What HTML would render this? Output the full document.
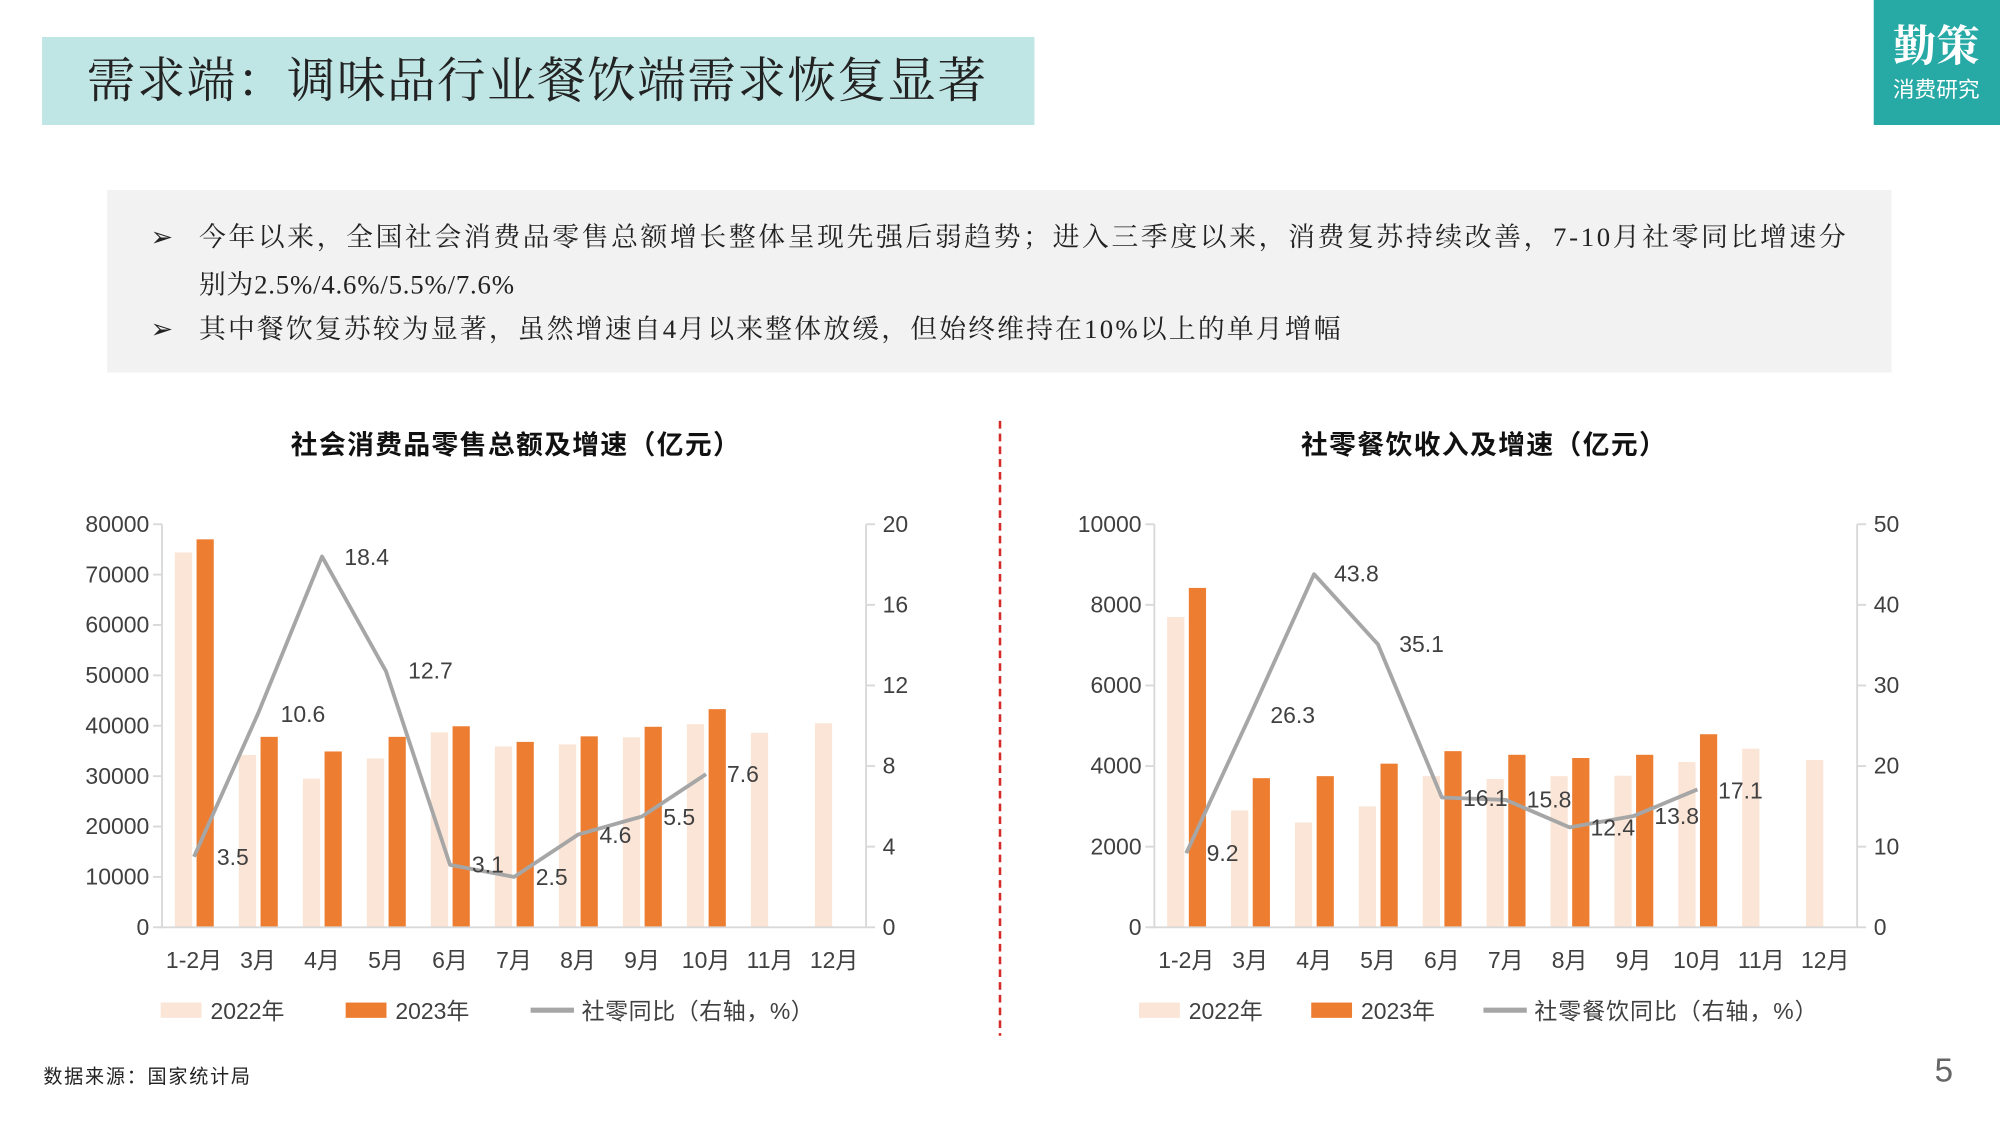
<!DOCTYPE html>
<html><head><meta charset="utf-8"><style>
html,body{margin:0;padding:0;background:#fff;}
svg{display:block;}
.t{font-family:"Liberation Sans","Noto Sans CJK SC",sans-serif;fill:#404040;font-size:18px;}
.s{font-family:"Liberation Serif","Noto Serif CJK SC",serif;}
</style></head><body>
<svg width="2000" height="1125" viewBox="0 0 1568 882" xmlns="http://www.w3.org/2000/svg">
<rect x="0" y="0" width="1568" height="882" fill="#fff"/>
<rect x="33" y="29" width="778" height="69" fill="#bfe5e5"/>
<text x="68" y="76" class="s" font-size="38" fill="#222" textLength="705" lengthAdjust="spacing">需求端：调味品行业餐饮端需求恢复显著</text>
<rect x="1469" y="0" width="99" height="98" fill="#27a9a5"/>
<text x="1518" y="48" text-anchor="middle" class="s" font-size="34" font-weight="bold" fill="#fff">勤策</text>
<text x="1518" y="76" text-anchor="middle" font-family="Liberation Sans,'Noto Sans CJK SC',sans-serif" font-size="17" fill="#fff">消费研究</text>
<rect x="84" y="149" width="1399" height="143" fill="#f2f2f2"/>
<g class="s" font-size="21" fill="#222">
<text x="118" y="193">➢</text><text x="156" y="193" textLength="1291" lengthAdjust="spacing">今年以来，全国社会消费品零售总额增长整体呈现先强后弱趋势；进入三季度以来，消费复苏持续改善，7-10月社零同比增速分</text>
<text x="156" y="230" textLength="247" lengthAdjust="spacing">别为2.5%/4.6%/5.5%/7.6%</text>
<text x="118" y="265">➢</text><text x="156" y="265" textLength="895" lengthAdjust="spacing">其中餐饮复苏较为显著，虽然增速自4月以来整体放缓，但始终维持在10%以上的单月增幅</text>
</g>
<line x1="784" y1="330" x2="784" y2="812" stroke="#d42a2a" stroke-width="2" stroke-dasharray="6,4"/>
<g font-family="Liberation Sans,'Noto Sans CJK SC',sans-serif" font-size="21" font-weight="bold" fill="#111">
<text x="228" y="356" textLength="352" lengthAdjust="spacing">社会消费品零售总额及增速（亿元）</text>
<text x="1020" y="356" textLength="286" lengthAdjust="spacing">社零餐饮收入及增速（亿元）</text>
</g>
<g id="L"></g>
<g id="R"></g>
<text x="34" y="849" font-family="Liberation Sans,'Noto Sans CJK SC',sans-serif" font-size="15" fill="#222" textLength="162" lengthAdjust="spacing">数据来源：国家统计局</text>
<text x="1524" y="848" text-anchor="middle" font-family="Liberation Sans,sans-serif" font-size="26" fill="#666">5</text>
<script>
var NS="http://www.w3.org/2000/svg";
function el(p,n,a,t){var e=document.createElementNS(NS,n);for(var k in a)e.setAttribute(k,a[k]);if(t!=null)e.textContent=t;p.appendChild(e);return e;}
function chart(id,ax,rx,lmax,lt,rmax,rt,d22,d23,ln,lbl,lg){
 var g=document.getElementById(id),y0=727,y1=411,H=y0-y1,cw=(rx-ax)/11;
 el(g,"line",{x1:ax,y1:y1,x2:ax,y2:y0,stroke:"#d9d9d9","stroke-width":1.5});
 el(g,"line",{x1:rx,y1:y1,x2:rx,y2:y0,stroke:"#d9d9d9","stroke-width":1.5});
 lt.forEach(function(v){var y=y0-v/lmax*H;el(g,"line",{x1:ax-7,y1:y,x2:ax,y2:y,stroke:"#d9d9d9","stroke-width":1.5});el(g,"text",{x:ax-10,y:y+6,"text-anchor":"end","class":"t"},v);});
 rt.forEach(function(v){var y=y0-v/rmax*H;el(g,"line",{x1:rx,y1:y,x2:rx+7,y2:y,stroke:"#d9d9d9","stroke-width":1.5});el(g,"text",{x:rx+13,y:y+6,"class":"t"},v);});
 var ms=["1-2月","3月","4月","5月","6月","7月","8月","9月","10月","11月","12月"];
 var pts=[];
 for(var i=0;i<11;i++){var c=ax+cw*(i+0.5);
  if(d22[i]!=null){var h=d22[i]/lmax*H;el(g,"rect",{x:c-15,y:y0-h,width:13.5,height:h,fill:"#fbe5d6"});}
  if(d23[i]!=null){var h=d23[i]/lmax*H;el(g,"rect",{x:c+2,y:y0-h,width:13.5,height:h,fill:"#ed7d31"});}
  el(g,"text",{x:c,y:759,"text-anchor":"middle","class":"t"},ms[i]);
  if(ln[i]!=null)pts.push(c+","+(y0-ln[i]/rmax*H));
 }
 el(g,"line",{x1:ax-2,y1:y0,x2:rx,y2:y0,stroke:"#d9d9d9","stroke-width":1.5});
 el(g,"polyline",{points:pts.join(" "),fill:"none",stroke:"#a6a6a6","stroke-width":3,"stroke-linejoin":"round"});
 lbl.forEach(function(l){el(g,"text",{x:l[0],y:l[1]+6,"class":"t"},l[2]);});
 el(g,"rect",{x:lg[0],y:786,width:32,height:12,fill:"#fbe5d6"});el(g,"text",{x:lg[0]+39,y:799,"class":"t"},"2022年");
 el(g,"rect",{x:lg[1],y:786,width:32,height:12,fill:"#ed7d31"});el(g,"text",{x:lg[1]+39,y:799,"class":"t"},"2023年");
 el(g,"line",{x1:lg[2],y1:792,x2:lg[2]+34,y2:792,stroke:"#a6a6a6","stroke-width":4});el(g,"text",{x:lg[2]+40,y:799,"class":"t",textLength:lg[4],lengthAdjust:"spacing"},lg[3]);
}
chart("L",127,679,80000,[0,10000,20000,30000,40000,50000,60000,70000,80000],20,[0,4,8,12,16,20],
 [74400,34200,29500,33500,38700,35900,36300,37700,40300,38600,40500],
 [77000,37800,34900,37800,39900,36800,37900,39800,43300,null,null],
 [3.5,10.6,18.4,12.7,3.1,2.5,4.6,5.5,7.6,null,null],
 [[170,672,"3.5"],[220,560,"10.6"],[270,437,"18.4"],[320,526,"12.7"],[370,678,"3.1"],[420,688,"2.5"],[470,655,"4.6"],[520,641,"5.5"],[570,607,"7.6"]],
 [126,271,416,"社零同比（右轴，%）",182]);
chart("R",905,1456,10000,[0,2000,4000,6000,8000,10000],50,[0,10,20,30,40,50],
 [7700,2900,2600,3000,3750,3680,3750,3760,4100,4430,4150],
 [8420,3700,3750,4060,4370,4280,4200,4280,4790,null,null],
 [9.2,26.3,43.8,35.1,16.1,15.8,12.4,13.8,17.1,null,null],
 [[946,669,"9.2"],[996,561,"26.3"],[1046,450,"43.8"],[1097,505,"35.1"],[1147,626,"16.1"],[1197,627,"15.8"],[1247,649,"12.4"],[1297,640,"13.8"],[1347,620,"17.1"]],
 [893,1028,1163,"社零餐饮同比（右轴，%）",222]);
</script>
</svg>
</body></html>
